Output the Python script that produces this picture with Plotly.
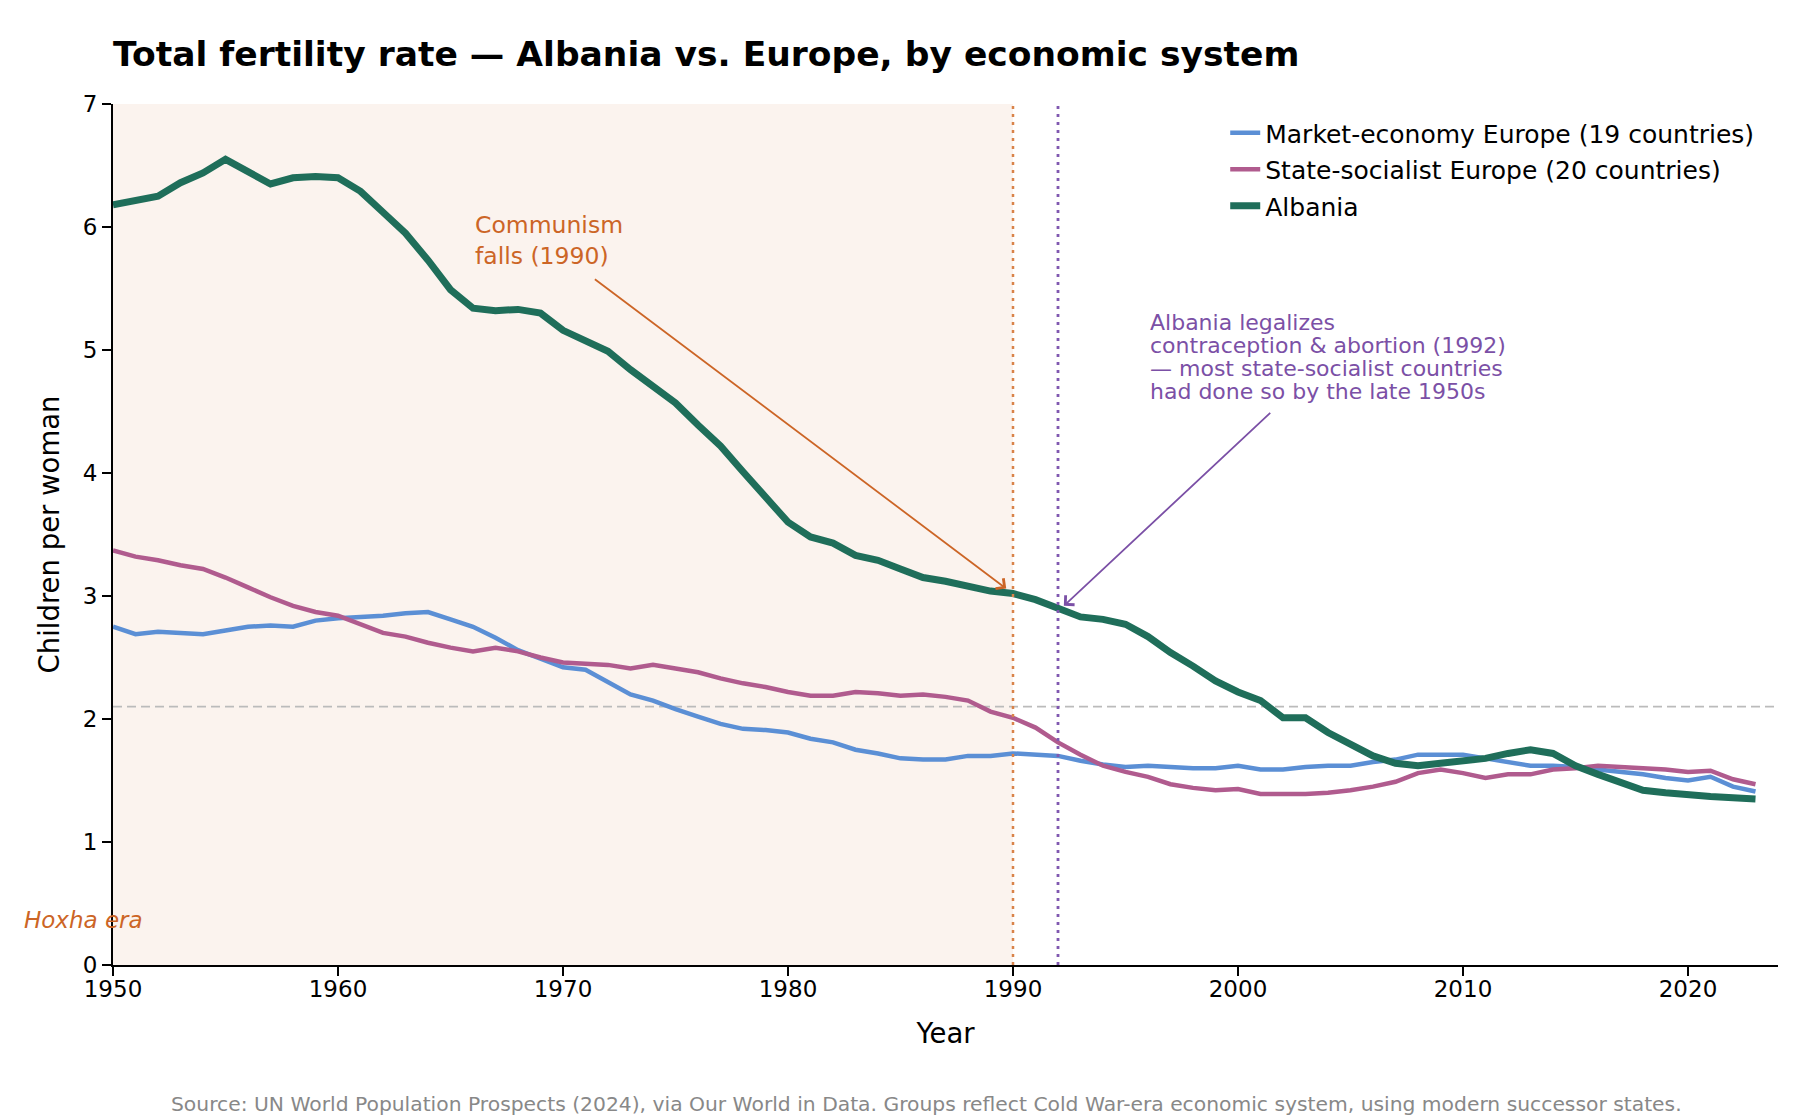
import plotly.graph_objects as go

# data: total fertility rate, 1950-2023
YEARS = list(range(1950, 2024))

MARKET = [2.75, 2.69, 2.71, 2.70, 2.69, 2.72, 2.75, 2.76, 2.75, 2.80,
          2.82, 2.83, 2.84, 2.86, 2.87, 2.81, 2.75, 2.66, 2.56, 2.49,
          2.42, 2.40, 2.30, 2.20, 2.15, 2.08, 2.02, 1.96, 1.92, 1.91,
          1.89, 1.84, 1.81, 1.75, 1.72, 1.68, 1.67, 1.67, 1.70, 1.70,
          1.72, 1.71, 1.70, 1.66, 1.63, 1.61, 1.62, 1.61, 1.60, 1.60,
          1.62, 1.59, 1.59, 1.61, 1.62, 1.62, 1.65, 1.67, 1.71, 1.71,
          1.71, 1.68, 1.65, 1.62, 1.62, 1.61, 1.59, 1.57, 1.55, 1.52,
          1.50, 1.53, 1.45, 1.41]

SOCIALIST = [3.37, 3.32, 3.29, 3.25, 3.22, 3.15, 3.07, 2.99, 2.92, 2.87,
             2.84, 2.77, 2.70, 2.67, 2.62, 2.58, 2.55, 2.58, 2.55, 2.50,
             2.46, 2.45, 2.44, 2.41, 2.44, 2.41, 2.38, 2.33, 2.29, 2.26,
             2.22, 2.19, 2.19, 2.22, 2.21, 2.19, 2.20, 2.18, 2.15, 2.06,
             2.01, 1.93, 1.81, 1.71, 1.62, 1.57, 1.53, 1.47, 1.44, 1.42,
             1.43, 1.39, 1.39, 1.39, 1.40, 1.42, 1.45, 1.49, 1.56, 1.59,
             1.56, 1.52, 1.55, 1.55, 1.59, 1.60, 1.62, 1.61, 1.60, 1.59,
             1.57, 1.58, 1.51, 1.47]

ALBANIA = [6.18, 6.21, 6.25, 6.36, 6.44, 6.55, 6.45, 6.35, 6.40, 6.41,
           6.40, 6.29, 6.12, 5.95, 5.73, 5.49, 5.34, 5.32, 5.33, 5.30,
           5.16, 5.08, 4.99, 4.84, 4.71, 4.57, 4.39, 4.22, 4.01, 3.80,
           3.60, 3.48, 3.43, 3.33, 3.29, 3.22, 3.15, 3.12, 3.08, 3.04,
           3.02, 2.97, 2.90, 2.83, 2.81, 2.77, 2.67, 2.54, 2.43, 2.31,
           2.22, 2.15, 2.01, 2.01, 1.89, 1.79, 1.70, 1.64, 1.62, 1.64,
           1.66, 1.68, 1.72, 1.75, 1.72, 1.62, 1.55, 1.48, 1.42, 1.40,
           1.38, 1.37, 1.36, 1.35]

REPLACEMENT = 2.1
HOXHA_END = 1990
LEGAL_YEAR = 1992
X_TICKS = [1950, 1960, 1970, 1980, 1990, 2000, 2010, 2020]
Y_TICKS = [0, 1, 2, 3, 4, 5, 6, 7]

LEGAL_NOTE = ["Albania legalizes",
              "contraception & abortion (1992)",
              "— most state-socialist countries",
              "had done so by the late 1950s"]
LEGAL_NOTE_Y = [5.227, 5.040, 4.853, 4.666]

BLUE = "#5b8fd5"
PINK = "#b05b8e"
GREEN = "#1f6e5a"
ORANGE = "#cc6526"
PURPLE = "#7b50a6"
FONT = "DejaVu Sans"

fig = go.Figure()

fig.add_trace(go.Scatter(x=YEARS, y=MARKET, mode="lines", name="Market-economy Europe (19 countries)",
                         legendgroup="a", line=dict(color=BLUE, width=4.5)))
fig.add_trace(go.Scatter(x=YEARS, y=SOCIALIST, mode="lines", name="State-socialist Europe (20 countries)",
                         legendgroup="b", line=dict(color=PINK, width=4.5)))
fig.add_trace(go.Scatter(x=YEARS, y=ALBANIA, mode="lines", name="Albania",
                         legendgroup="c", line=dict(color=GREEN, width=7)))

# Hoxha era shading + reference lines
fig.add_vrect(x0=1950, x1=HOXHA_END, fillcolor="#fbf3ee", line_width=0, layer="below")
fig.add_hline(y=REPLACEMENT, line=dict(color="#bbbbbb", width=1.8, dash="9px,5px"), layer="below")
fig.add_vline(x=HOXHA_END, line=dict(color="#d9834a", width=2.5, dash="3px,5px"))
fig.add_vline(x=LEGAL_YEAR, line=dict(color="#8058b0", width=2.8, dash="3px,5px"))

# annotations
fig.add_annotation(x=1966, y=5.89, xref="x", yref="y", showarrow=False,
                   text="Communism<br>falls (1990)", align="left", xanchor="left", yanchor="middle",
                   font=dict(family=FONT, size=23.5, color=ORANGE))
fig.add_annotation(x=1989.7, y=3.06, ax=1971.35, ay=5.585, xref="x", yref="y", axref="x", ayref="y",
                   text="", showarrow=True, arrowhead=4, arrowsize=1.4, arrowwidth=1.8, arrowcolor=ORANGE)
for line, ly in zip(LEGAL_NOTE, LEGAL_NOTE_Y):
    fig.add_annotation(x=1996, y=ly, xref="x", yref="y", showarrow=False,
                       text=line, align="left", xanchor="left", yanchor="middle",
                       font=dict(family=FONT, size=22, color=PURPLE))
fig.add_annotation(x=1992.26, y=2.92, ax=2001.5, ay=4.50, xref="x", yref="y", axref="x", ayref="y",
                   text="", showarrow=True, arrowhead=4, arrowsize=1.4, arrowwidth=1.8, arrowcolor=PURPLE)
fig.add_annotation(x=-0.0177, y=0.366, xref="paper", yref="y", showarrow=False,
                   text="<i>Hoxha era</i>", xanchor="center", yanchor="middle",
                   font=dict(family=FONT, size=23, color=ORANGE))
fig.add_annotation(x=0.4883, y=-0.1614, xref="paper", yref="paper", showarrow=False,
                   text="Source: UN World Population Prospects (2024), via Our World in Data. "
                        "Groups reflect Cold War-era economic system, using modern successor states.",
                   xanchor="center", yanchor="middle",
                   font=dict(family=FONT, size=20.3, color="#888888"))

fig.update_layout(
    width=1800, height=1120,
    margin=dict(l=105, r=30, t=96, b=163),
    paper_bgcolor="white", plot_bgcolor="white",
    font=dict(family=FONT, size=23, color="black"),
    title=dict(text="<b>Total fertility rate — Albania vs. Europe, by economic system</b>",
               x=105 / 1800, xanchor="left", y=1 - 46 / 1120, yanchor="middle",
               font=dict(family=FONT, size=34.5, color="black")),
    legend=dict(x=0.668, y=0.993, xanchor="left", yanchor="top", bgcolor="rgba(0,0,0,0)",
                font=dict(family=FONT, size=25), tracegroupgap=1, itemwidth=30),
    showlegend=True,
)
fig.update_xaxes(range=[1950, 2024], tickvals=X_TICKS, showgrid=False, zeroline=False,
                 showline=True, linecolor="black", linewidth=2,
                 ticks="outside", ticklen=9, tickwidth=2, tickcolor="black",
                 ticklabelstandoff=-7,
                 title=dict(text="Year", font=dict(size=27.5), standoff=23))
fig.update_yaxes(range=[0, 7], tickvals=Y_TICKS, showgrid=False, zeroline=False,
                 showline=True, linecolor="black", linewidth=2,
                 ticks="outside", ticklen=9, tickwidth=2, tickcolor="black",
                 title=dict(text="Children per woman", font=dict(size=27.5), standoff=15))

fig.write_html("out.html")
